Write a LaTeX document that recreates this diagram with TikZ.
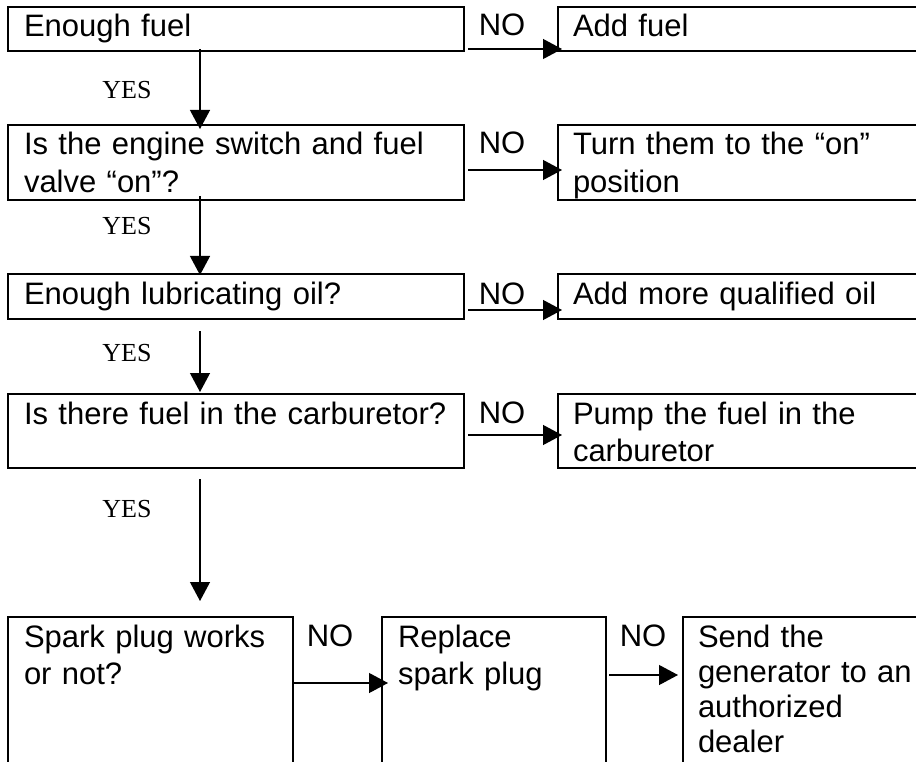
\documentclass[tikz,border=0pt]{standalone}
\usepackage{fontspec}
\setmainfont{Liberation Sans}
\newfontfamily\yesfont{Liberation Serif}
\usetikzlibrary{arrows.meta}

\tikzset{
  box/.style={draw, line width=2pt, anchor=north west, inner xsep=16pt, inner ysep=0pt,
    align=left, text height=30pt, font=\fontsize{31}{37.5}\selectfont},
  fixbox/.style={box, inner xsep=15pt},
  flow/.style={-{Triangle[length=19pt,width=20pt]}, line width=1.2pt},
  nolabel/.style={anchor=base, inner sep=0pt, font=\fontsize{31}{37}\selectfont},
  yeslabel/.style={anchor=base, inner sep=0pt, font=\yesfont\fontsize{26}{30}\selectfont},
}

\begin{document}
\begin{tikzpicture}[x=1pt, y=-1pt]
    \useasboundingbox (0,0) rectangle (916,762);
    \fill[white] (0,0) rectangle (916,762);
    \clip (0,0) rectangle (916,762);

    \node[box, text width=424pt, text depth=14pt] (check1) at (7,6) {Enough fuel};
    \node[box, text width=424pt, text depth=45pt] (check2) at (7,124) {Is the engine switch and fuel\\valve “on”?};
    \node[box, text width=424pt, text depth=15pt] (check3) at (7,273) {Enough lubricating oil?};
    \node[box, text width=424pt, text depth=44pt] (check4) at (7,393) {Is there fuel in the carburetor?};
    \node[box, text width=253pt, text depth=154pt] (check5) at (7,616) {Spark plug works\\or not?};

    \node[fixbox, text width=353pt, text depth=14pt] (fix1) at (557,6) {Add fuel};
    \node[fixbox, text width=353pt, text depth=45pt] (fix2) at (557,124) {Turn them to the “on”\\position};
    \node[fixbox, text width=353pt, text depth=15pt] (fix3) at (557,273) {Add more qualified oil};
    \node[fixbox, text width=353pt, text depth=44pt] (fix4) at (557,393) {Pump the fuel in the\\carburetor};
    \node[box, text width=192pt, text depth=154pt] (plug) at (381,616) {Replace\\spark plug};
    \node[fixbox, text width=228pt, text depth=154pt, font=\fontsize{31}{35.3}\selectfont] (dealer) at (682,616)
      {Send the\\generator to an\\authorized\\dealer};

    \coordinate (spine) at (200,0);
    \draw[flow, shorten <=-3pt, shorten >=-5pt] (check1.south -| spine) -- (check2.north -| spine);
    \draw[flow, shorten <=-5pt, shorten >=-2pt] (check2.south -| spine) -- (check3.north -| spine);
    \draw[flow, shorten <=11pt, shorten >=1pt] (check3.south -| spine) -- (check4.north -| spine);
    \draw[flow, shorten <=10pt, shorten >=15pt] (check4.south -| spine) -- (check5.north -| spine);

    \draw[flow, shorten <=3pt, shorten >=-5pt] ([yshift=-20pt]check1.east) -- ([yshift=-20pt]fix1.west);
    \draw[flow, shorten <=3pt, shorten >=-5pt] ([yshift=-7.5pt]check2.east) -- ([yshift=-7.5pt]fix2.west);
    \draw[flow, shorten <=3pt, shorten >=-5pt] ([yshift=-13.5pt]check3.east) -- ([yshift=-13.5pt]fix3.west);
    \draw[flow, shorten <=3pt, shorten >=-5pt] ([yshift=-4pt]check4.east) -- ([yshift=-4pt]fix4.west);
    \draw[flow, shorten >=-7pt] ([yshift=-67pt]check5.north east) -- ([yshift=-67pt]plug.north west);
    \draw[flow, shorten <=2pt, shorten >=4pt] ([yshift=-59pt]plug.north east) -- ([yshift=-59pt]dealer.north west);

    \node[yeslabel] (yes1) at (127,99) {YES};
    \node[yeslabel] (yes2) at (127,235) {YES};
    \node[yeslabel] (yes3) at (127,361) {YES};
    \node[yeslabel] (yes4) at (127,517) {YES};

    \node[nolabel] (no1) at (502,36) {NO};
    \node[nolabel] (no2) at (502,154) {NO};
    \node[nolabel] (no3) at (502,304) {NO};
    \node[nolabel] (no4) at (502,423) {NO};
    \node[nolabel] (no5) at (330,646) {NO};
    \node[nolabel] (no6) at (643,646) {NO};
\end{tikzpicture}
\end{document}
